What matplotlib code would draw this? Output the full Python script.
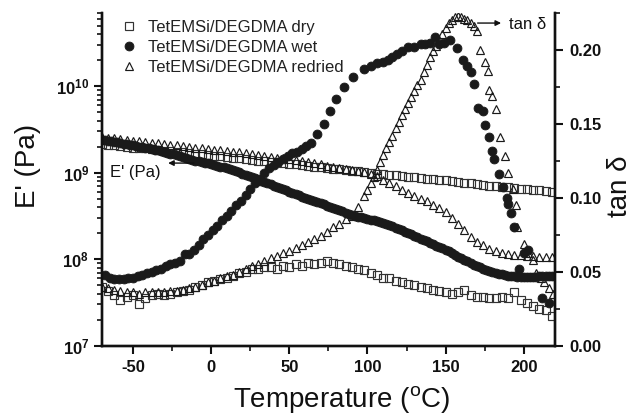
import numpy as np
import matplotlib
matplotlib.use("Agg")
import matplotlib.pyplot as plt
from matplotlib.ticker import FuncFormatter, MultipleLocator, LogLocator, NullFormatter
from matplotlib.lines import Line2D

plt.rcParams['font.family'] = ['Liberation Sans', 'DejaVu Sans']
plt.rcParams['axes.unicode_minus'] = False
plt.rcParams['mathtext.fontset'] = 'custom'
plt.rcParams['mathtext.rm'] = 'Liberation Sans'
plt.rcParams['mathtext.bf'] = 'Liberation Sans:bold'

# ---------------- data ----------------
# E' dry (log10 Pa), 4 C steps from -70
T_dry_E = np.arange(-70, 219, 4)
dry_logE = [9.33, 9.32, 9.315, 9.31, 9.30, 9.29, 9.285, 9.28, 9.27, 9.26, 9.255, 9.25, 9.24, 9.235,
            9.225, 9.22, 9.21, 9.205, 9.195, 9.19, 9.18, 9.175, 9.165, 9.16, 9.15, 9.14, 9.135, 9.125,
            9.12, 9.11, 9.10, 9.095, 9.085, 9.075, 9.07, 9.06, 9.055, 9.045, 9.04, 9.03, 9.02, 9.015,
            9.005, 9.00, 8.99, 8.985, 8.975, 8.97, 8.96, 8.955, 8.945, 8.94, 8.93, 8.925, 8.915, 8.91,
            8.90, 8.89, 8.88, 8.875, 8.865, 8.86, 8.85, 8.845, 8.835, 8.83, 8.82, 8.815, 8.81, 8.80,
            8.795, 8.79, 8.78]

# E' redried (log10 Pa), 4 C steps from -70
T_red_E = np.arange(-70, 219, 4)
red_logE = [9.41, 9.40, 9.395, 9.385, 9.38, 9.37, 9.36, 9.355, 9.345, 9.34, 9.33, 9.32, 9.315, 9.305,
            9.30, 9.29, 9.28, 9.275, 9.265, 9.26, 9.25, 9.24, 9.235, 9.225, 9.215, 9.205, 9.195, 9.185,
            9.175, 9.165, 9.155, 9.145, 9.135, 9.12, 9.11, 9.095, 9.08, 9.065, 9.05, 9.04, 9.03, 9.02,
            9.005, 8.99, 8.96, 8.92, 8.88, 8.84, 8.80, 8.76, 8.73, 8.70, 8.67, 8.63, 8.59, 8.55, 8.48,
            8.41, 8.34, 8.26, 8.20, 8.16, 8.12, 8.09, 8.07, 8.06, 8.05, 8.045, 8.04, 8.035, 8.03, 8.03,
            8.03]

# E' wet (log10 Pa), 2 C steps from -70
T_wet_E = np.arange(-70, 221, 2)
wet_logE = [9.38, 9.374, 9.368, 9.362, 9.356, 9.35, 9.343, 9.336, 9.329, 9.322, 9.315, 9.308, 9.301,
            9.294, 9.287, 9.28, 9.272, 9.264, 9.256, 9.248, 9.24, 9.23, 9.22, 9.21, 9.20, 9.19, 9.18,
            9.17, 9.16, 9.15, 9.14, 9.132, 9.124, 9.116, 9.108, 9.10, 9.09, 9.08, 9.07, 9.06, 9.05,
            9.038, 9.026, 9.014, 9.002, 8.99, 8.976, 8.962, 8.948, 8.934, 8.92, 8.906, 8.892, 8.878,
            8.864, 8.85, 8.836, 8.822, 8.808, 8.794, 8.78, 8.766, 8.752, 8.738, 8.724, 8.71, 8.697,
            8.684, 8.671, 8.658, 8.645, 8.632, 8.619, 8.606, 8.593, 8.58, 8.566, 8.552, 8.538, 8.524,
            8.51, 8.501, 8.492, 8.483, 8.474, 8.465, 8.456, 8.447, 8.438, 8.429, 8.42, 8.406, 8.392,
            8.378, 8.364, 8.35, 8.334, 8.318, 8.302, 8.286, 8.27, 8.254, 8.238, 8.222, 8.206, 8.19,
            8.174, 8.158, 8.142, 8.126, 8.11, 8.09, 8.07, 8.05, 8.03, 8.01, 7.992, 7.974, 7.956, 7.938,
            7.92, 7.906, 7.892, 7.878, 7.864, 7.85, 7.842, 7.834, 7.826, 7.818, 7.81, 7.806, 7.802,
            7.798, 7.794, 7.79, 7.792, 7.794, 7.796, 7.798, 7.80, 7.802, 7.804, 7.806, 7.808, 7.81]

# tan delta dry, 4 C steps from -70
T_dry_tan = np.arange(-70, 219, 4)
dry_tan = [0.040, 0.037, 0.034, 0.031, 0.033, 0.034, 0.028, 0.032, 0.034, 0.035, 0.034, 0.035, 0.036,
           0.037, 0.038, 0.040, 0.041, 0.043, 0.044, 0.045, 0.046, 0.047, 0.049, 0.050, 0.052, 0.052,
           0.053, 0.053, 0.052, 0.054, 0.053, 0.055, 0.054, 0.056, 0.055, 0.056, 0.057, 0.056, 0.055,
           0.054, 0.053, 0.052, 0.051, 0.049, 0.048, 0.046, 0.046, 0.044, 0.043, 0.042, 0.041, 0.040,
           0.039, 0.038, 0.037, 0.036, 0.035, 0.036, 0.038, 0.034, 0.033, 0.033, 0.032, 0.032, 0.033,
           0.032, 0.036, 0.031, 0.029, 0.027, 0.025, 0.024, 0.020]

# tan delta wet
T_wet_tan = [-68, -65, -62, -59, -56, -53, -50, -47, -44, -41, -38, -35, -32, -29, -26, -23, -20, -17,
             -14, -11, -8, -5, -2, 1, 4, 7, 10, 13, 16, 19, 22, 25, 28, 31, 34, 37, 40, 43, 46, 49, 52,
             55, 58, 61, 64, 68, 72, 76, 80, 85, 91, 98, 102, 106, 110, 113, 116, 119, 122, 126, 130,
             134, 137, 140, 143, 146, 149, 153, 157, 161, 164, 166, 168, 171, 174, 175, 178, 180, 181,
             184, 187, 189, 190, 192, 194, 197, 200, 203, 212, 216]
wet_tan = [0.048, 0.046, 0.045, 0.045, 0.045, 0.046, 0.046, 0.047, 0.048, 0.049, 0.050, 0.051, 0.052,
           0.054, 0.055, 0.056, 0.057, 0.062, 0.062, 0.065, 0.068, 0.072, 0.075, 0.078, 0.081, 0.085,
           0.088, 0.091, 0.095, 0.098, 0.102, 0.106, 0.110, 0.113, 0.117, 0.120, 0.122, 0.124, 0.126,
           0.128, 0.130, 0.131, 0.133, 0.135, 0.137, 0.143, 0.150, 0.159, 0.167, 0.175, 0.182, 0.187,
           0.189, 0.191, 0.192, 0.193, 0.195, 0.197, 0.199, 0.202, 0.202, 0.204, 0.204, 0.205, 0.209,
           0.204, 0.205, 0.207, 0.201, 0.193, 0.189, 0.185, 0.177, 0.161, 0.159, 0.149, 0.141, 0.132,
           0.126, 0.116, 0.107, 0.100, 0.096, 0.090, 0.080, 0.052, 0.063, 0.065, 0.032, 0.029]

# tan delta redried
T_red_tan = [-70, -66, -62, -58, -54, -50, -46, -42, -38, -34, -30, -26, -22, -18, -14, -10, -6, -2,
             2, 6, 10, 14, 18, 22, 26, 30, 34, 38, 42, 46, 50, 54, 58, 62, 66, 70, 74, 78, 82, 86, 90,
             94, 98, 100, 102, 104, 106, 108, 110, 112, 114, 116, 118, 120, 122, 124, 126, 128, 130,
             132, 134, 136, 138, 140, 142, 144, 146, 148, 150, 152, 154, 156, 158, 160, 162, 164, 166,
             168, 170, 172, 175, 177, 178, 180, 182, 185, 188, 190, 193, 195, 196, 200, 203, 206, 208,
             211, 213, 216, 219]
red_tan = [0.040, 0.039, 0.038, 0.037, 0.036, 0.036, 0.035, 0.036, 0.036, 0.036, 0.036, 0.037, 0.037,
           0.038, 0.039, 0.040, 0.041, 0.043, 0.044, 0.046, 0.047, 0.048, 0.050, 0.052, 0.054, 0.055,
           0.057, 0.059, 0.061, 0.063, 0.064, 0.066, 0.068, 0.070, 0.072, 0.074, 0.077, 0.080, 0.082,
           0.086, 0.088, 0.094, 0.101, 0.105, 0.110, 0.114, 0.119, 0.124, 0.129, 0.134, 0.138, 0.142,
           0.147, 0.151, 0.156, 0.160, 0.164, 0.168, 0.172, 0.176, 0.180, 0.185, 0.190, 0.195, 0.199,
           0.203, 0.207, 0.211, 0.215, 0.218, 0.220, 0.222, 0.223, 0.222, 0.221, 0.220, 0.218, 0.216,
           0.213, 0.200, 0.192, 0.186, 0.173, 0.169, 0.160, 0.141, 0.128, 0.117, 0.106, 0.095, 0.080,
           0.069, 0.063, 0.058, 0.049, 0.046, 0.043, 0.039, 0.035]

legend_labels = ["TetEMSi/DEGDMA dry", "TetEMSi/DEGDMA wet", "TetEMSi/DEGDMA redried"]

# ---------------- figure ----------------
W, H = 633, 415
fig = plt.figure(figsize=(W / 100, H / 100), dpi=100)
ax = fig.add_axes([101.7 / W, (H - 345.7) / H, (555 - 101.7) / W, (345.7 - 13) / H])
ax2 = ax.twinx()

ec = '#1a1a1a'
sq = dict(marker='s', ls='none', mfc='none', mec='#333333', ms=5.2, mew=0.85)
ci = dict(marker='o', ls='none', mfc=ec, mec=ec, ms=6.4, mew=0.6)
tr = dict(marker='^', ls='none', mfc='none', mec=ec, ms=6.2, mew=0.85)

ax.plot(T_dry_E, 10 ** np.array(dry_logE), **sq)
ax.plot(T_red_E, 10 ** np.array(red_logE), **tr)
ax.plot(T_wet_E, 10 ** np.array(wet_logE), **ci)

ax2.plot(T_dry_tan, dry_tan, **sq)
ax2.plot(T_red_tan, red_tan, **tr)
ax2.plot(T_wet_tan, wet_tan, **ci)

ax.set_yscale('log')
ax.set_ylim(1e7, 7e10)
ax.set_xlim(-70, 220)
ax2.set_ylim(0, 0.225)

ax.xaxis.set_major_locator(MultipleLocator(50))
ax.xaxis.set_minor_locator(MultipleLocator(25))
ax.yaxis.set_major_locator(LogLocator(base=10, numticks=10))
ax.yaxis.set_minor_locator(LogLocator(base=10, subs=np.arange(2, 10), numticks=20))
ax.yaxis.set_minor_formatter(NullFormatter())
ax.yaxis.set_major_formatter(FuncFormatter(lambda v, p: r'$\mathbf{10^{%d}}$' % round(np.log10(v))))
ax2.yaxis.set_major_locator(MultipleLocator(0.05))
ax2.yaxis.set_minor_locator(MultipleLocator(0.025))
ax2.yaxis.set_major_formatter(FuncFormatter(lambda v, p: '%.2f' % v))

for a in (ax, ax2):
    a.spines['top'].set_visible(False)
    for s in ('left', 'right', 'bottom'):
        a.spines[s].set_linewidth(1.7)
        a.spines[s].set_color('#111111')
    a.tick_params(which='major', direction='out', length=6, width=1.5, labelsize=12, colors='#111111')
    a.tick_params(which='minor', direction='out', length=3.5, width=1.2, colors='#111111')

for lab in ax.get_xticklabels() + ax2.get_yticklabels():
    lab.set_fontweight('bold')
ax.tick_params(axis='x', pad=4)
ax.tick_params(axis='y', pad=3)
ax2.tick_params(axis='y', pad=4)

# axis labels
fig.text(342 / W, 1 - 400 / H, r'Temperature ($^{\mathrm{o}}$C)', ha='center', va='center', fontsize=20, color='#111111')
fig.text(28 / W, 1 - 166 / H, "E' (Pa)", ha='center', va='center', rotation=90, fontsize=20, color='#111111')
fig.text(620 / W, 1 - 186 / H, "tan δ", ha='center', va='center', rotation=90, fontsize=20, color='#111111')

# annotations
ax.text(-64.5, 1.0e9, "E' (Pa)", ha='left', va='center', fontsize=12, color='#111111')
ax.annotate('', xy=(-27.5, 1.29e9), xytext=(-11, 1.29e9),
            arrowprops=dict(arrowstyle='-|>', color='#111111', lw=1.0, mutation_scale=8,
                            shrinkA=0, shrinkB=0))
ax2.text(190.5, 0.2175, "tan δ", ha='left', va='center', fontsize=12, color='#111111')
ax2.annotate('', xy=(185.5, 0.2182), xytext=(170.5, 0.2182),
             arrowprops=dict(arrowstyle='-|>', color='#111111', lw=1.0, mutation_scale=8,
                             shrinkA=0, shrinkB=0))

handles = [Line2D([], [], **sq), Line2D([], [], **ci), Line2D([], [], **tr)]
leg = fig.legend(handles, legend_labels, loc='upper left', bbox_to_anchor=(122.6 / W, 1 - 20 / H),
                 frameon=False, fontsize=12, handlelength=0.8, handletextpad=0.75,
                 borderpad=0, borderaxespad=0, labelspacing=0.3)
for t in leg.get_texts():
    t.set_color('#222222')

fig.savefig('out.png', dpi=100)
